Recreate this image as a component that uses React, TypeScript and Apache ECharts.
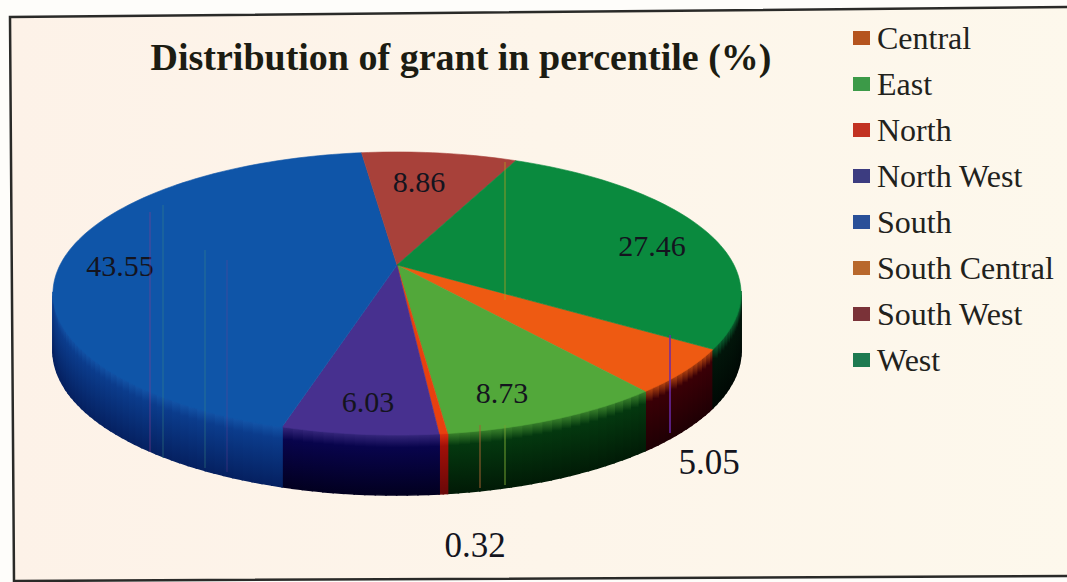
import React, { useEffect, useRef } from "react";
import * as echarts from "echarts";

const TITLE = "Distribution of grant in percentile (%)";
const categories = ["Central", "East", "North", "North West", "South", "South Central", "South West", "West"];
const values = [5.05, 8.73, 0.32, 6.03, 43.55, 0, 8.86, 27.46];

const topColors = ["#ee5a12", "#52a83a", "#e8400f", "#47308f", "#0f55a8", "#c8701c", "#a8413a", "#0a8a3e"];
const wallColors = [
  ["#c04a10", "#3a0006", "#1e0004"],
  ["#3f8a2e", "#04380f", "#011a06"],
  ["#e03010", "#a01008", "#6a0808"],
  ["#3a2a80", "#08044c", "#020020"],
  ["#1458ac", "#0b3c8c", "#052060"],
  ["#c8701c", "#6a3008", "#301404"],
  ["#a8413a", "#501010", "#300808"],
  ["#0a6a34", "#02150a", "#000804"],
];
const legendColors = ["#b5541e", "#3c9a48", "#c23222", "#3c3c80", "#2a5098", "#b8682c", "#7a3238", "#1e7a50"];
const labelAnchors: Record<string, [number, number, number]> = {
  Central: [709, 462, 35],
  East: [502, 392, 30],
  North: [475, 545, 35],
  "North West": [368, 401, 30],
  South: [120, 265, 30],
  "South West": [419, 181, 30],
  West: [652, 245, 30],
};
// faint vertical streaks left by the scan: [x, yFrom, yTo, colour, opacity]
const scanStripes: [number, number, number, string, number][] = [
  [670, 335, 433, "#6a2aa8", 0.75],
  [505, 162, 300, "#b09a20", 0.4],
  [480, 425, 488, "#a06030", 0.5],
  [505, 425, 485, "#70a030", 0.5],
  [150, 212, 452, "#8a3a90", 0.3],
  [163, 205, 458, "#3a8a80", 0.25],
  [205, 250, 468, "#3a8a80", 0.25],
  [227, 260, 472, "#7a3a90", 0.2],
];

const APEX_X = 397, APEX_Y = 265, PX = 337, PY = 135.8, PERSP = 0.2014, START = 123.5;
const rim = (deg: number) => {
  const t = (deg * Math.PI) / 180;
  const v = -Math.cos(t);
  const w = 1 - PERSP * v;
  return { x: APEX_X + (PX * Math.sin(t)) / w, y: APEX_Y + (PY * v) / w, v };
};
const depthAt = (v: number) => 56 + 4 * v;

const cumulative: number[] = [];
values.reduce((s, v, i) => ((cumulative[i] = s), s + v), 0);

const topItem = (i: number) => (_p: any, api: any) => {
  const val = api.value(0);
  if (!val) return { type: "group", children: [] };
  const a0 = START + (api.value(1) / 100) * 360;
  const a1 = a0 + (val / 100) * 360;
  const pts: number[][] = [[APEX_X, APEX_Y]];
  const n = Math.max(2, Math.ceil((a1 - a0) / 1.5));
  for (let k = 0; k <= n; k++) {
    const p = rim(a0 + ((a1 - a0) * k) / n);
    pts.push([p.x, p.y]);
  }
  const children: any[] = [
    { type: "polygon", shape: { points: pts }, style: { fill: topColors[i], stroke: topColors[i], lineWidth: 0.6 } },
  ];
  const anchor = labelAnchors[categories[i]];
  if (anchor) {
    children.push({
      type: "text",
      z2: 10,
      style: {
        text: String(val),
        x: anchor[0],
        y: anchor[1],
        align: "center",
        verticalAlign: "middle",
        fill: "#14141e",
        font: `${anchor[2]}px "Liberation Serif"`,
      },
    });
  }
  return { type: "group", children };
};

const wallItem = (params: any, api: any) => {
  const val = api.value(0);
  if (!val) return { type: "group", children: [] };
  const i = params.dataIndex;
  const a0 = START + (api.value(1) / 100) * 360;
  const a1 = a0 + (val / 100) * 360;
  const n = Math.max(2, Math.ceil((a1 - a0) / 1.5));
  const children: any[] = [];
  const [c0, c1, c2] = wallColors[i];
  for (let k = 0; k < n; k++) {
    const p = rim(a0 + ((a1 - a0) * k) / n);
    const q = rim(a0 + ((a1 - a0) * (k + 1)) / n);
    // the wall shows only below the widest point of the rim
    if (p.v < PERSP && q.v < PERSP) continue;
    const grad = new echarts.graphic.LinearGradient(0, 0, 0, 1, [
      { offset: 0, color: c0 },
      { offset: 0.22, color: c1 },
      { offset: 1, color: c2 },
    ]);
    children.push({
      type: "polygon",
      shape: {
        points: [
          [p.x, p.y - 1],
          [q.x, q.y - 1],
          [q.x, q.y + depthAt(q.v)],
          [p.x, p.y + depthAt(p.v)],
        ],
      },
      style: { fill: grad, stroke: grad, lineWidth: 1.6 },
    });
  }
  return { type: "group", children };
};

export default function App() {
  const ref = useRef<HTMLDivElement>(null);
  useEffect(() => {
    document.body.style.margin = "0";
    const chart = echarts.init(ref.current!, undefined, { renderer: "svg" });
    chart.setOption({
      animation: false,
      backgroundColor: "#fefdfa",
      title: {
        text: TITLE,
        left: 456,
        top: 33,
        textAlign: "center",
        textStyle: { fontFamily: "Liberation Serif", fontWeight: "bold", fontSize: 38, color: "#1c1c12" },
      },
      legend: {
        orient: "vertical",
        left: 848,
        top: 17,
        itemWidth: 17,
        itemHeight: 14,
        itemGap: 14,
        icon: "rect",
        data: categories.map((name, i) => ({ name, itemStyle: { color: legendColors[i] } })),
        textStyle: { fontFamily: "Liberation Serif", fontSize: 32, color: "#22221c", padding: [0, 0, 0, 2] },
        selectedMode: false,
      },
      graphic: [
        {
          type: "polygon",
          silent: true,
          z: -10,
          shape: { points: [[10, 17], [1080, 7], [1080, 576], [14, 581]] },
          style: {
            fill: new echarts.graphic.LinearGradient(0, 0, 1, 0, [
              { offset: 0, color: "#fdf2e8" },
              { offset: 1, color: "#fdf8ec" },
            ]),
            stroke: "#2a2a28",
            lineWidth: 2.5,
          },
        },
        ...scanStripes.map(([x, y1, y2, color, opacity]) => ({
          type: "line",
          silent: true,
          z: 5,
          shape: { x1: x, y1, x2: x, y2 },
          style: { stroke: color, lineWidth: 2, opacity },
        })),
      ],
      series: [
        {
          type: "custom",
          name: "walls",
          coordinateSystem: "none",
          z: 1,
          silent: true,
          renderItem: wallItem,
          data: values.map((v, i) => [v, cumulative[i]]),
        },
        ...categories.map((name, i) => ({
          type: "custom",
          name,
          coordinateSystem: "none",
          z: 2,
          silent: true,
          itemStyle: { color: legendColors[i] },
          renderItem: topItem(i),
          data: [[values[i], cumulative[i]]],
        })),
      ],
    });
    return () => chart.dispose();
  }, []);
  return <div ref={ref} style={{ width: 1067, height: 582 }} />;
}
